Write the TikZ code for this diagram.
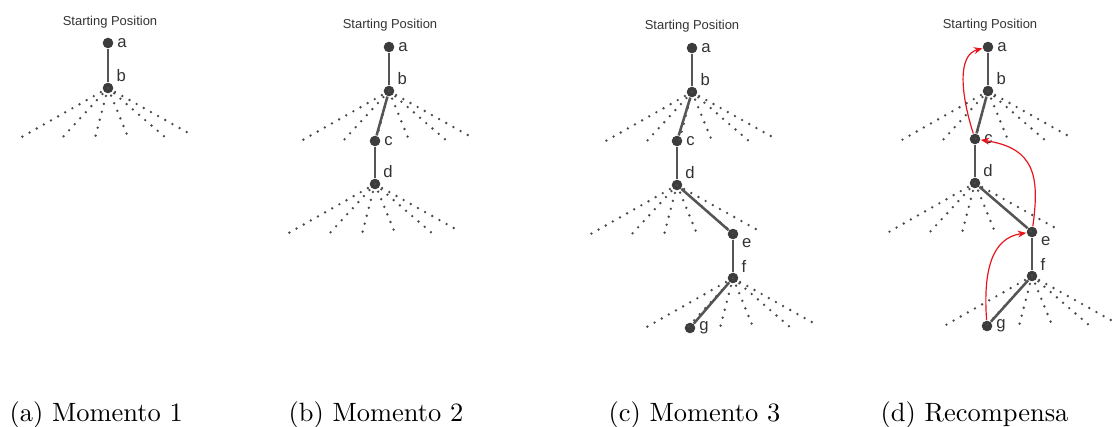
\documentclass[tikz,border=0pt]{standalone}
\usepackage{fontspec}
\newfontfamily\guifont{Liberation Sans}
\usetikzlibrary{arrows.meta}
\definecolor{nodegray}{HTML}{3C3C3C}
\definecolor{edgegray}{HTML}{555555}
\definecolor{dotgray}{HTML}{4A4A4A}
\definecolor{rewardred}{HTML}{E8141B}
\newcommand{\fan}[1]{%
	\foreach \dx/\dy in {-88/50,-46/50,-13/50,20/49,58/50,84/47}
		\draw[fanline] (#1.center) -- ++(\dx,\dy);}

\begin{document}
\begin{tikzpicture}[
		x=0.378pt,
		y=-0.378pt,
		>={Stealth[length=3.2pt,width=2.6pt]},
		vertex/.style={circle,fill=nodegray,inner sep=0pt,minimum size=4pt},
		title/.style={font=\guifont\fontsize{4.9}{6}\selectfont,text=black!80},
		caption/.style={font=\fontsize{10}{12}\selectfont,anchor=base west,inner sep=0pt},
		move/.style={draw=edgegray,line width=0.95pt},
		fanline/.style={draw=dotgray,line width=1pt,line cap=round,dash pattern=on 0pt off 3.1pt},
		reward/.style={draw=rewardred,line width=0.45pt,->},
		every label/.style={rectangle,fill=none,minimum size=0pt,inner sep=1.1pt,
			font=\guifont\fontsize{6.3}{7}\selectfont,text=black!80},
		label distance=0pt,
	]
		\useasboundingbox (0,0) rectangle (1115,426);

		% (a) Momento 1
		\node[title] (ta) at (110,22) {Starting Position};
		\begin{scope}[every node/.style={vertex}]
			\node[label=0:a] (a1) at (108,43) {};
			\node[label=27:b] (b1) at (108,88) {};
		\end{scope}
		\fan{b1}
		\path[move] (a1) edge (b1);

		% (b) Momento 2
		\node[title] (tb) at (390,25) {Starting Position};
		\begin{scope}[every node/.style={vertex}]
			\node[label=0:a] (a2) at (389,47) {};
			\node[label=27:b] (b2) at (389,91) {};
			\node[label=0:c] (c2) at (375,141) {};
			\node[label=30:d] (d2) at (375,184) {};
		\end{scope}
		\fan{b2}
		\fan{d2}
		\path[move] (a2) edge (b2);
		\path[move] (b2) edge (c2);
		\path[move] (c2) edge (d2);

		% (c) Momento 3
		\node[title] (tc) at (692,26) {Starting Position};
		\begin{scope}[every node/.style={vertex}]
			\node[label=0:a] (a3) at (692,48) {};
			\node[label=27:b] (b3) at (692,92) {};
			\node[label=0:c] (c3) at (677,141) {};
			\node[label=30:d] (d3) at (677,185) {};
			\node[label=-15:e] (e3) at (733,234) {};
			\node[label=25:f] (f3) at (733,278) {};
			\node[label=0:g] (g3) at (690,328) {};
		\end{scope}
		\fan{b3}
		\fan{d3}
		\fan{f3}
		\path[move] (a3) edge (b3);
		\path[move] (b3) edge (c3);
		\path[move] (c3) edge (d3);
		\path[move] (d3) edge (e3);
		\path[move] (e3) edge (f3);
		\path[move] (f3) edge (g3);

		% (d) Recompensa
		\node[title] (td) at (990,25) {Starting Position};
		\begin{scope}[every node/.style={vertex}]
			\node[label=0:a] (a4) at (988,47) {};
			\node[label=27:b] (b4) at (988,91) {};
			\node[label=0:c] (c4) at (975,139) {};
			\node[label=30:d] (d4) at (975,183) {};
			\node[label=-15:e] (e4) at (1032,232) {};
			\node[label=25:f] (f4) at (1032,276) {};
			\node[label=0:g] (g4) at (987,326) {};
		\end{scope}
		\fan{b4}
		\fan{d4}
		\fan{f4}
		\path[move] (a4) edge (b4);
		\path[move] (b4) edge (c4);
		\path[move] (c4) edge (d4);
		\path[move] (d4) edge (e4);
		\path[move] (e4) edge (f4);
		\path[move] (f4) edge (g4);

		% reward going back up
		\draw[reward] (c4) .. controls (961,95) and (957,55) .. (a4);
		\draw[reward] (e4) .. controls (1040,175) and (1034,148) .. (c4);
		\draw[reward] (g4) .. controls (983,270) and (992,238) .. (e4);

		% captions
		\node[caption] (capa) at (9,421.5) {(a) Momento 1};
		\node[caption] (capb) at (288,421.5) {(b) Momento 2};
		\node[caption] (capc) at (608,421.5) {(c) Momento 3};
		\node[caption] (capd) at (880,421.5) {(d) Recompensa};
	\end{tikzpicture}
\end{document}
